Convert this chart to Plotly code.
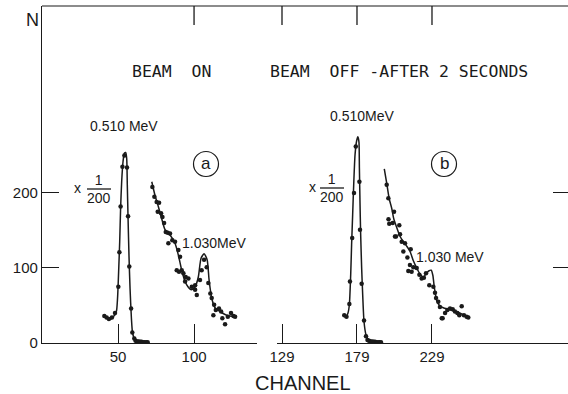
import plotly.graph_objects as go

W, H = 568, 394

# ---------------- data ----------------
# Panel (a) BEAM ON : 0.510 MeV peak (x 1/200), fitted curve
peak_a_line_ch = [40.3, 42.0, 43.6, 45.5, 46.9, 48.2, 49.1, 49.8, 50.4, 51.1, 51.7, 52.4, 53.3,
                  54.2, 55.0, 55.7, 56.1, 56.6, 57.2, 57.9, 58.8, 59.6, 61.2, 63.0, 65.6, 70.0]
peak_a_line_n = [37, 35, 32, 32, 35, 38, 44, 64, 95, 135, 180, 215, 242,
                 253, 254, 246, 211, 166, 117, 73, 33, 13, 4, 2, 1.5, 1]
# measured points on the peak
peak_a_dot_ch = [41.0, 42.5, 44.0, 46.0, 48.0, 50.2, 50.9, 51.7, 52.9, 54.2, 55.9, 56.6, 57.4,
                 58.6, 59.4, 60.7, 61.5, 62.5, 63.5, 64.5, 65.5, 66.5, 67.5, 68.5, 69.5]
peak_a_dot_n = [36, 34, 32, 34, 40, 75, 121, 182, 235, 250, 234, 169, 102,
                46, 14, 6, 3, 2, 2, 1.5, 1.5, 1, 1, 1, 1]

# Panel (a): Compton region and 1.030 MeV peak
comp_a_line_ch = [72.2, 74.3, 76.5, 78.7, 80.9, 84.2, 87.5, 89.7, 91.9, 94.1, 96.0, 98.2,
                  100.7, 102.8, 104.6, 106.6, 108.6, 109.9, 111.6, 113.8, 117.1, 121.5, 127.0]
comp_a_line_n = [215, 197, 182, 166, 151, 144, 133, 117, 97, 82, 75, 71,
                 75, 88, 113, 119, 111, 84, 60, 47, 42, 37, 35]
comp_a_dot_ch = [72.6, 73.9, 75.4, 76.1, 77.0, 78.3, 79.2, 80.3, 81.4, 82.7, 83.1, 84.2, 85.7,
                 87.5, 88.6, 89.7, 90.1, 90.8, 91.9, 93.0, 94.1, 94.5, 96.3, 98.5, 100.7,
                 100.7, 101.8, 103.9, 105.0, 106.6, 108.3, 109.4, 110.7, 111.6, 112.7, 113.2,
                 114.3, 116.4, 117.8, 118.6, 120.4, 122.2, 124.3, 125.9, 127.0]
comp_a_dot_n = [208, 195, 188, 175, 187, 173, 168, 160, 148, 147, 133, 146, 137,
                135, 97, 124, 95, 115, 97, 93, 82, 88, 86, 75, 77,
                71, 64, 84, 97, 111, 101, 80, 66, 60, 37, 51,
                44, 46, 42, 33, 25, 35, 40, 36, 35]

# Panel (b) BEAM OFF - AFTER 2 SECONDS : 0.510 MeV peak (x 1/200)
peak_b_line_ch = [169.9, 171.0, 171.7, 173.0, 173.9, 174.8, 175.4, 176.1, 176.8, 177.7, 178.8,
                  179.6, 180.3, 180.6, 181.0, 181.4, 182.1, 182.8, 183.7, 185.0, 187.0, 190.0, 196.0]
peak_b_line_n = [38, 35, 35, 40, 51, 91, 131, 171, 211, 251, 270,
                 275, 268, 233, 188, 148, 100, 64, 28, 11, 3, 1.5, 1]
peak_b_dot_ch = [170.5, 172.0, 173.9, 174.3, 175.8, 177.0, 178.2, 180.6, 181.0, 182.1, 183.7,
                 185.0, 186.0, 187.0, 188.0, 189.0, 190.0, 191.0, 192.0, 193.0, 194.0, 195.0]
peak_b_dot_n = [37, 35, 52, 82, 140, 200, 262, 215, 151, 79, 30,
                9, 4, 3, 2, 2, 1.5, 1.5, 1, 1, 1, 1]

# Panel (b): Compton region and 1.030 MeV peak
comp_b_line_ch = [197.2, 198.8, 200.5, 202.1, 203.6, 205.5, 207.5, 209.9, 212.2, 214.4, 216.5,
                  218.8, 221.0, 223.2, 225.0, 226.8, 228.5, 229.6, 230.5, 232.1, 234.0, 236.5,
                  240.0, 243.2, 247.5, 252.1]
comp_b_line_n = [232, 213, 192, 180, 165, 154, 143, 135, 129, 122, 110,
                 100, 92, 88, 92, 96, 97, 90, 75, 57, 50, 47,
                 45, 43, 40, 35]
comp_b_dot_ch = [198.8, 199.9, 200.0, 200.5, 202.8, 203.7, 204.3, 205.0, 207.2, 207.7, 208.8,
                 209.9, 211.0, 212.6, 213.2, 214.3, 214.8, 215.4, 216.6, 218.8, 220.6, 222.1,
                 223.6, 225.0, 227.2, 229.9, 231.0, 231.7, 233.2, 234.3, 235.5, 236.1, 237.7,
                 239.2, 241.0, 242.8, 244.3, 245.9, 247.2, 248.8, 250.3, 252.1, 253.2]
comp_b_dot_n = [211, 193, 165, 159, 160, 175, 142, 142, 157, 145, 135,
                122, 133, 114, 96, 104, 125, 95, 101, 100, 91, 86,
                87, 93, 77, 75, 67, 60, 55, 48, 33, 33, 40,
                44, 46, 45, 42, 40, 37, 49, 37, 35, 34]

x_ticks_a = [50, 100]
x_ticks_b = [129, 179, 229]
y_ticks = [0, 100, 200]
top_ticks_a = [100]
top_ticks_b = [129, 179, 229]
side_ticks = [100, 200]

# ---------------- figure ----------------
INK = '#1a1a1a'
SANS = 'Liberation Sans, Arial, sans-serif'
MONO = 'DejaVu Sans Mono, Liberation Mono, monospace'


def px(x):
    return x / W


def py(y):
    return 1 - y / H


fig = go.Figure()
lstyle = dict(color=INK, width=1.5, shape='spline', smoothing=0.6)
mstyle = dict(color=INK, size=4.5)

for xs, ys, ax in [(peak_a_line_ch, peak_a_line_n, 'x'), (comp_a_line_ch, comp_a_line_n, 'x'),
                   (peak_b_line_ch, peak_b_line_n, 'x2'), (comp_b_line_ch, comp_b_line_n, 'x2')]:
    fig.add_trace(go.Scatter(x=xs, y=ys, mode='lines', line=lstyle, xaxis=ax, yaxis='y',
                             hoverinfo='skip', showlegend=False))
for xs, ys, ax in [(peak_a_dot_ch, peak_a_dot_n, 'x'), (comp_a_dot_ch, comp_a_dot_n, 'x'),
                   (peak_b_dot_ch, peak_b_dot_n, 'x2'), (comp_b_dot_ch, comp_b_dot_n, 'x2')]:
    fig.add_trace(go.Scatter(x=xs, y=ys, mode='markers', marker=mstyle, xaxis=ax, yaxis='y',
                             hoverinfo='skip', showlegend=False))

# empty trace so the right-hand tick axis is drawn
fig.add_trace(go.Scatter(x=[None], y=[None], xaxis='x2', yaxis='y2', showlegend=False,
                         hoverinfo='skip'))

XR_A = [0, 141.4]
XR_B = [125.67, 319.67]
YR = [0, 449.3]
DOM_A = [px(42), px(257)]
DOM_B = [px(277), 1.0]
DOM_Y = [py(343), py(6)]

common = dict(showgrid=False, zeroline=False, linecolor=INK, linewidth=1.2, tickcolor=INK,
              tickwidth=1.3, ticks='inside', automargin=False, type='linear',
              tickfont=dict(family=SANS, size=15, color=INK))

fig.update_layout(
    width=W, height=H, template='none',
    margin=dict(l=0, r=0, t=0, b=0),
    paper_bgcolor='white', plot_bgcolor='rgba(0,0,0,0)',
    showlegend=False,
    xaxis=dict(domain=DOM_A, range=XR_A, anchor='y', showline=True,
               tickvals=x_ticks_a, ticklen=19, **common),
    xaxis2=dict(domain=DOM_B, range=XR_B, anchor='y', showline=True,
                tickvals=x_ticks_b, ticklen=19, **common),
    yaxis=dict(domain=DOM_Y, range=YR, anchor='x', showline=True,
               tickvals=y_ticks, ticklen=17, **common),
    yaxis2=dict(overlaying='y', anchor='x2', side='right', range=YR, showline=False,
                tickvals=side_ticks, ticklen=15, showticklabels=False, **common),
)

# top frame line
fig.add_shape(type='line', xref='paper', yref='paper', x0=px(42), x1=1.0, y0=py(6), y1=py(6),
              line=dict(color=INK, width=1.2), layer='above')
# top tick marks, positioned by the channel axes
for ref, vals in [('x', top_ticks_a), ('x2', top_ticks_b)]:
    for v in vals:
        fig.add_shape(type='line', xref=ref, yref='paper', x0=v, x1=v, y0=py(6), y1=py(25),
                      line=dict(color=INK, width=1.3), layer='above')

# circled panel letters
for cx, cy in [(206, 164), (444, 164)]:
    fig.add_shape(type='circle', xref='paper', yref='paper', x0=px(cx - 12.5), x1=px(cx + 12.5),
                  y0=py(cy + 12.5), y1=py(cy - 12.5), line=dict(color=INK, width=1.2))
# fraction bars
for x0, x1, yb in [(87, 111, 189), (320, 344, 188)]:
    fig.add_shape(type='line', xref='paper', yref='paper', x0=px(x0), x1=px(x1), y0=py(yb), y1=py(yb),
                  line=dict(color=INK, width=1.3))


def note(text, x, y, size, family=SANS, xanchor='center'):
    fig.add_annotation(text=text, x=px(x), y=py(y), xref='paper', yref='paper', showarrow=False,
                       xanchor=xanchor, yanchor='middle',
                       font=dict(family=family, size=size, color=INK))


note('N', 32, 20, 18)
note('BEAM  ON', 130, 71, 16.5, family=MONO, xanchor='left')
note('BEAM  OFF -AFTER 2 SECONDS', 268, 71, 16.5, family=MONO, xanchor='left')
note('0.510 MeV', 124, 126, 14)
note('0.510MeV', 362, 116, 14)
note('1.030MeV', 214, 243, 14)
note('1.030 MeV', 450, 257, 14)
note('a', 206, 163, 17)
note('b', 444, 163, 17)
note('x', 77, 188, 14)
note('1<br>200', 99, 189, 14)
note('x', 312, 187, 14)
note('1<br>200', 332, 188, 14)
note('CHANNEL', 303, 383, 20)

fig.write_html('out.html', config={'displayModeBar': False})
